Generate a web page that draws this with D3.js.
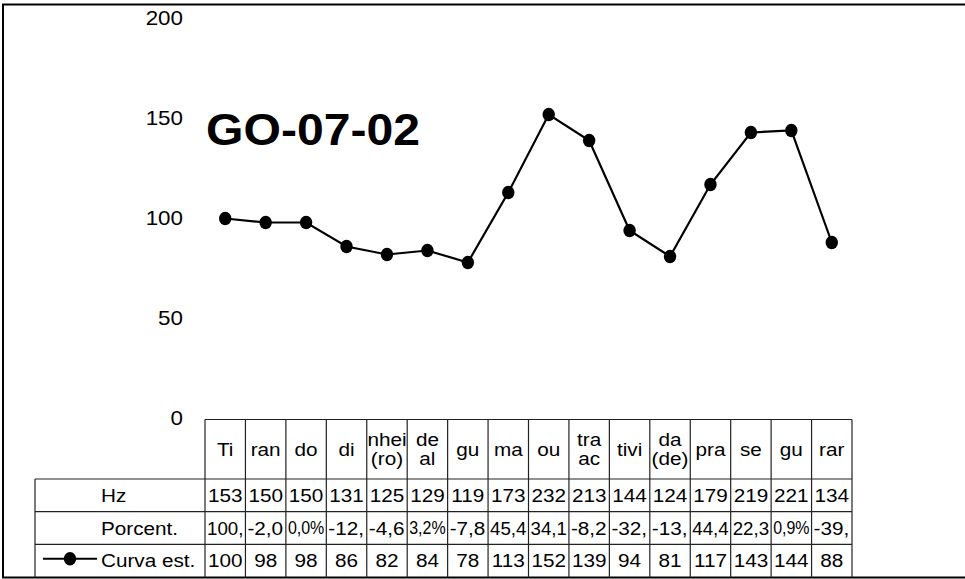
<!DOCTYPE html>
<html>
<head>
<meta charset="utf-8">
<script src="https://cdn.jsdelivr.net/npm/d3@7/dist/d3.min.js"></script>
<style>
  html, body { margin: 0; padding: 0; background: #fff; }
  svg { display: block; font-family: "Liberation Sans", Arial, sans-serif; }
</style>
</head>
<body>
<svg id="chart" width="965" height="579"></svg>
<script>
// ---- data ----
const title = "GO-07-02";
const categories = ["Ti", "ran", "do", "di", "nhei\n(ro)", "de\nal", "gu", "ma", "ou", "tra\nac", "tivi", "da\n(de)", "pra", "se", "gu", "rar"];
const hzValues = [153, 150, 150, 131, 125, 129, 119, 173, 232, 213, 144, 124, 179, 219, 221, 134];
const porcentValues = ["100,0%", "-2,0%", "0,0%", "-12,7%", "-4,6%", "3,2%", "-7,8%", "45,4%", "34,1%", "-8,2%", "-32,4%", "-13,9%", "44,4%", "22,3%", "0,9%", "-39,4%"];
const curvaValues = [100, 98, 98, 86, 82, 84, 78, 113, 152, 139, 94, 81, 117, 143, 144, 88];
const rowLabels = ["Hz", "Porcent.", "Curva est."];
const yTicks = [0, 50, 100, 150, 200];

// ---- layout ----
const svg = d3.select("#chart");
const W = 965, H = 579;
const SX = 1.12; // horizontal stretch of the original rendering
const plotLeft = 205, plotRight = 852;
const headerTop = 419.5, headerBottom = 479;
const rowH = 32.7;
const legendLeft = 35;
const tableStroke = "#222";
const MAX_CHARS = 4; // a cell that overflows shows only its first characters

const x = d3.scaleBand().domain(d3.range(categories.length)).range([plotLeft, plotRight]).padding(0);
const y = d3.scaleLinear().domain([0, 200]).range([418.5, 18.5]);

// outer border
svg.append("rect").attr("x", 3).attr("y", 4.5).attr("width", W + 20).attr("height", 573)
  .attr("fill", "none").attr("stroke", "#000").attr("stroke-width", 2);

// text in a table cell: centred when it fits, otherwise cut and narrowed into the cell
function cellText(g, str, cx0, cx1, cy, size) {
  const cw = cx1 - cx0;
  const tg = g.append("g");
  const t = tg.append("text").text(str)
    .attr("font-size", size).attr("fill", "#000").attr("dominant-baseline", "central");
  const w = t.node().getComputedTextLength() * SX;
  if (w > cw - 1) {
    let s = str.length > MAX_CHARS ? str.slice(0, MAX_CHARS) : str;
    t.text(s);
    const w2 = t.node().getComputedTextLength() * SX;
    let sx = SX;
    if (w2 > cw - 4) sx = SX * (cw - 4) / w2;
    t.attr("text-anchor", "start").attr("transform", `scale(${sx},1)`);
    tg.attr("transform", `translate(${cx0 + 2},${cy})`);
  } else {
    t.attr("text-anchor", "middle").attr("transform", `scale(${SX},1)`);
    tg.attr("transform", `translate(${(cx0 + cx1) / 2},${cy})`);
  }
}

// y axis labels (no axis line)
const yAxis = d3.axisLeft(y).tickValues(yTicks).tickSize(0).tickPadding(0).tickFormat(d3.format("d"));
const yg = svg.append("g").attr("transform", "translate(183,-1)").call(yAxis);
yg.select(".domain").remove();
yg.selectAll("text").attr("font-size", 20).attr("fill", "#000")
  .attr("font-family", "Liberation Sans, Arial, sans-serif")
  .attr("text-anchor", "end").attr("dy", "0.35em")
  .attr("x", 0).attr("transform", `scale(${SX},1)`);

// title
svg.append("text").text(title)
  .attr("font-size", 45).attr("font-weight", "bold").attr("fill", "#000")
  .attr("transform", `translate(206,145) scale(1.07,1)`);

// line + markers
const line = d3.line().x((d, i) => x(i) + x.bandwidth() / 2).y(d => y(d));
svg.append("path").datum(curvaValues).attr("d", line)
  .attr("fill", "none").attr("stroke", "#000").attr("stroke-width", 2.2);
svg.append("g").selectAll("ellipse").data(curvaValues).join("ellipse")
  .attr("cx", (d, i) => x(i) + x.bandwidth() / 2).attr("cy", d => y(d))
  .attr("rx", 6.2).attr("ry", 6.7).attr("fill", "#000");

// ---- data table ----
const tg = svg.append("g");
const rowsTop = headerBottom;
const rowYs = [0, 1, 2, 3].map(k => rowsTop + k * rowH);
const tableBottom = rowYs[3];

// header cells
categories.forEach((c, i) => {
  const x0 = x(i), x1 = x(i) + x.bandwidth();
  const lines = c.split("\n");
  const mid = (headerTop + headerBottom) / 2;
  if (lines.length === 1) {
    cellText(tg, lines[0], x0, x1, mid, 18.5);
  } else {
    cellText(tg, lines[0], x0, x1, mid - 10, 18.5);
    cellText(tg, lines[1], x0, x1, mid + 9.5, 18.5);
  }
});

// body cells
const rowsData = [hzValues.map(String), porcentValues, curvaValues.map(String)];
rowsData.forEach((vals, r) => {
  const cy = (rowYs[r] + rowYs[r + 1]) / 2;
  vals.forEach((v, i) => {
    cellText(tg, v, x(i), x(i) + x.bandwidth(), cy, 18.5);
  });
});

// row labels
rowLabels.forEach((lab, r) => {
  const cy = (rowYs[r] + rowYs[r + 1]) / 2;
  tg.append("text").text(lab)
    .attr("font-size", 18.5).attr("fill", "#000").attr("dominant-baseline", "central")
    .attr("transform", `translate(101,${cy}) scale(${SX},1)`);
});

// legend key in last row
const keyY = (rowYs[2] + rowYs[3]) / 2 - 2;
tg.append("line").attr("x1", 43).attr("x2", 97).attr("y1", keyY).attr("y2", keyY)
  .attr("stroke", "#000").attr("stroke-width", 2.2);
tg.append("ellipse").attr("cx", 70).attr("cy", keyY).attr("rx", 6.2).attr("ry", 6.7).attr("fill", "#000");

// grid lines
const gl = svg.append("g").attr("stroke", tableStroke).attr("stroke-width", 1.2).attr("fill", "none");
gl.append("line").attr("x1", plotLeft).attr("x2", plotRight).attr("y1", headerTop).attr("y2", headerTop);
rowYs.slice(0, 3).forEach(yy => {
  gl.append("line").attr("x1", legendLeft).attr("x2", plotRight).attr("y1", yy).attr("y2", yy);
});
d3.range(categories.length + 1).forEach(i => {
  const xx = i < categories.length ? x(i) : plotRight;
  gl.append("line").attr("x1", xx).attr("x2", xx).attr("y1", headerTop).attr("y2", tableBottom);
});
gl.append("line").attr("x1", legendLeft).attr("x2", legendLeft).attr("y1", rowsTop).attr("y2", tableBottom);
</script>
</body>
</html>
